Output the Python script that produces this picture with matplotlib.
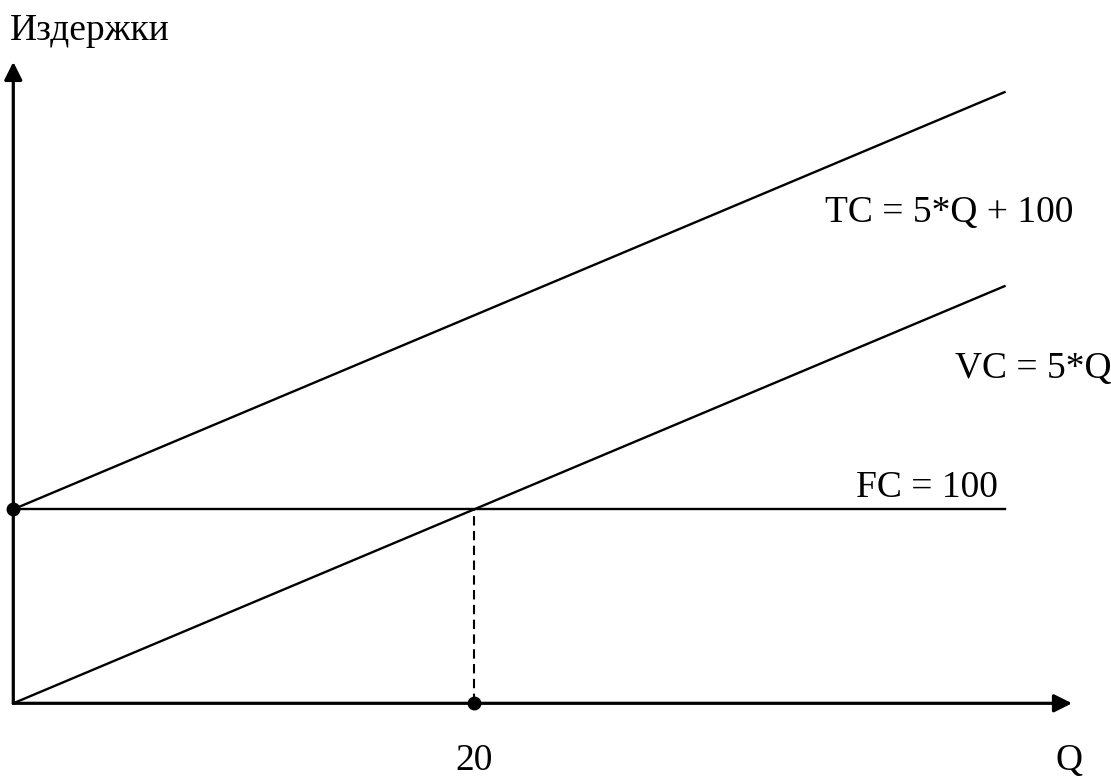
import matplotlib
matplotlib.use("Agg")
import matplotlib.pyplot as plt

plt.rcParams['font.family'] = ['Liberation Serif', 'DejaVu Serif']

# cost curves (Q from 0 to the right end of the lines)
q = [0, 43]
fc = [100, 100]
vc = [0, 215]
tc = [100, 315]
q_break = 20
fc_level = 100

fig = plt.figure(figsize=(11.11, 7.76), dpi=100)
ax = fig.add_axes([0, 0, 1, 1])
ax.set_xlim(-0.577, 47.62)
ax.set_ylim(-37.47, 362.5)
ax.axis('off')

# axes with arrows
arrow = dict(arrowstyle='-|>', lw=2.3, color='black', mutation_scale=27,
             shrinkA=0, shrinkB=0)
ax.annotate('', xy=(45.93, 0), xytext=(0, 0), arrowprops=arrow)
ax.annotate('', xy=(0, 330.6), xytext=(0, 0), arrowprops=arrow)

ax.plot(q, tc, color='black', lw=1.7)
ax.plot(q, vc, color='black', lw=1.7)
ax.plot(q, fc, color='black', lw=1.7)
ax.plot([q_break, q_break], [0, fc_level], color='black', lw=1.5,
        linestyle=(0, (4.5, 2.6)))
ax.plot([0, q_break], [fc_level, 0], 'o', color='black', markersize=9,
        linestyle='none', clip_on=False)

fs = 27
ax.text(35.2, 248.1, 'TC = 5*Q + 100', fontsize=fs, va='baseline')
ax.text(40.85, 167.7, 'VC = 5*Q', fontsize=fs, va='baseline')
ax.text(36.56, 106.3, 'FC = 100', fontsize=fs, va='baseline')
ax.text(q_break, -34.4, '20', fontsize=fs, va='baseline', ha='center')
ax.text(45.23, -34.4, 'Q', fontsize=fs, va='baseline')
ax.text(-0.14, 341.9, 'Издержки', fontsize=fs, va='baseline')

fig.savefig('out.png', dpi=100)
